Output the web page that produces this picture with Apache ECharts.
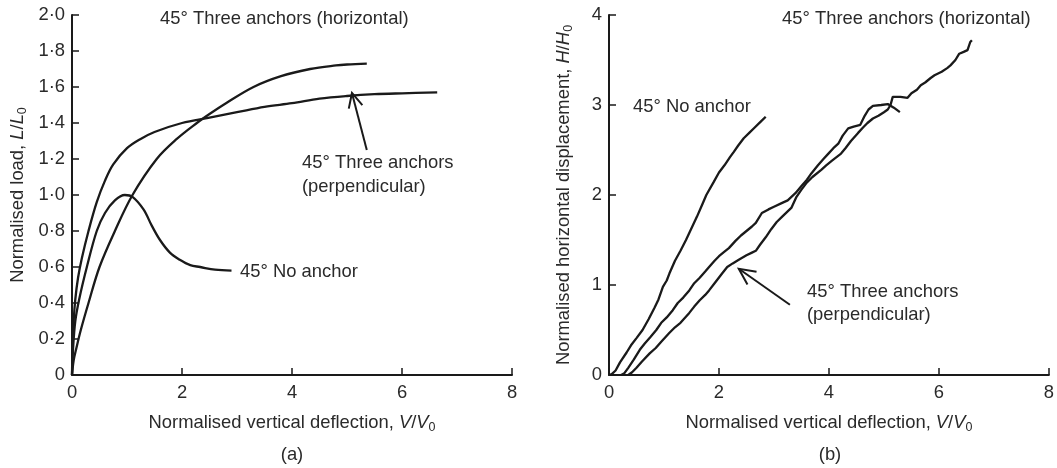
<!DOCTYPE html>
<html>
<head>
<meta charset="utf-8">
<script src="https://cdn.jsdelivr.net/npm/echarts@6/dist/echarts.min.js"></script>
<style>
html,body{margin:0;padding:0;background:#fff;}
#c{width:1057px;height:468px;}
</style>
</head>
<body>
<div id="c"></div>
<script>
// ---------- Data: panel (a) load vs vertical deflection ----------
const aNoAnchor = [[0,0],[0.02,0.15],[0.06,0.3],[0.13,0.42],[0.27,0.6],[0.45,0.8],[0.6,0.9],[0.78,0.97],[0.96,1.0],[1.1,0.99],[1.3,0.92],[1.45,0.83],[1.6,0.75],[1.78,0.68],[1.96,0.64],[2.15,0.61],[2.33,0.6],[2.6,0.585],[2.9,0.58]];
const aHorizontal = [[0,0],[0.03,0.08],[0.08,0.15],[0.16,0.25],[0.3,0.4],[0.5,0.6],[0.78,0.8],[1.1,1.0],[1.54,1.2],[1.9,1.31],[2.27,1.4],[2.5,1.45],[2.8,1.51],[3.3,1.6],[3.8,1.66],[4.33,1.7],[4.8,1.72],[5.0,1.725],[5.36,1.73]];
const aPerpendicular = [[0,0],[0.01,0.15],[0.03,0.3],[0.06,0.42],[0.11,0.54],[0.18,0.65],[0.3,0.8],[0.45,0.96],[0.6,1.08],[0.75,1.17],[1.0,1.26],[1.24,1.31],[1.5,1.35],[2.0,1.4],[2.5,1.43],[3.0,1.46],[3.5,1.49],[4.0,1.51],[4.5,1.535],[5.0,1.55],[5.5,1.56],[6.0,1.565],[6.64,1.57]];

// ---------- Data: panel (b) horizontal vs vertical deflection ----------
const bNoAnchor = [[0,0],[0.05,0.01],[0.12,0.05],[0.2,0.14],[0.32,0.25],[0.4,0.33],[0.5,0.41],[0.61,0.5],[0.72,0.62],[0.83,0.75],[0.9,0.84],[0.98,0.98],[1.05,1.05],[1.1,1.13],[1.2,1.27],[1.3,1.38],[1.4,1.5],[1.5,1.63],[1.6,1.76],[1.7,1.9],[1.77,2.0],[1.9,2.14],[2.0,2.25],[2.1,2.33],[2.2,2.42],[2.27,2.48],[2.35,2.55],[2.45,2.63],[2.55,2.69],[2.65,2.75],[2.75,2.81],[2.85,2.87]];
const bHorizontal = [[0.22,0],[0.28,0.02],[0.35,0.08],[0.45,0.17],[0.56,0.28],[0.65,0.35],[0.75,0.42],[0.86,0.5],[0.95,0.58],[1.05,0.64],[1.16,0.72],[1.25,0.8],[1.35,0.86],[1.46,0.94],[1.55,1.02],[1.65,1.08],[1.75,1.15],[1.82,1.2],[1.92,1.27],[2.0,1.32],[2.1,1.37],[2.18,1.41],[2.3,1.49],[2.4,1.55],[2.5,1.6],[2.6,1.65],[2.67,1.69],[2.78,1.8],[2.9,1.84],[3.0,1.87],[3.14,1.91],[3.25,1.94],[3.39,2.02],[3.5,2.1],[3.6,2.17],[3.68,2.24],[3.8,2.33],[3.9,2.4],[3.99,2.46],[4.08,2.52],[4.17,2.57],[4.25,2.66],[4.35,2.74],[4.45,2.76],[4.57,2.78],[4.65,2.88],[4.72,2.95],[4.8,2.99],[4.95,3.0],[5.07,3.01],[5.18,2.97],[5.29,2.92]];
const bPerpendicular = [[0.35,0],[0.42,0.03],[0.5,0.08],[0.6,0.15],[0.74,0.24],[0.85,0.3],[0.95,0.37],[1.1,0.47],[1.2,0.53],[1.3,0.58],[1.46,0.69],[1.55,0.76],[1.65,0.83],[1.75,0.89],[1.82,0.94],[1.92,1.02],[2.06,1.13],[2.15,1.2],[2.25,1.24],[2.36,1.28],[2.5,1.33],[2.6,1.36],[2.67,1.38],[2.75,1.45],[2.85,1.53],[2.95,1.62],[3.05,1.7],[3.15,1.76],[3.32,1.86],[3.41,1.98],[3.5,2.06],[3.6,2.14],[3.7,2.2],[3.86,2.28],[3.95,2.33],[4.05,2.38],[4.22,2.46],[4.3,2.52],[4.4,2.6],[4.53,2.69],[4.62,2.75],[4.7,2.8],[4.8,2.85],[4.9,2.88],[5.0,2.92],[5.07,2.95],[5.12,3.0],[5.16,3.09],[5.3,3.09],[5.43,3.08],[5.5,3.13],[5.6,3.17],[5.67,3.22],[5.75,3.25],[5.85,3.3],[5.92,3.33],[6.05,3.37],[6.15,3.41],[6.21,3.44],[6.3,3.5],[6.37,3.57],[6.45,3.59],[6.52,3.61],[6.57,3.7],[6.6,3.72]];

// ---------- Labels ----------
const xTitle = 'Normalised vertical deflection, {i|V}/{i|V}{s|0}';
const yTitleA = 'Normalised load, {i|L}/{i|L}{s|0}';
const yTitleB = 'Normalised horizontal displacement, {i|H}/{i|H}{s|0}';
const lblHorizontal = '45° Three anchors (horizontal)';
const lblPerp = ['45° Three anchors', '(perpendicular)'];
const lblNoAnchor = '45° No anchor';
const panelLabels = ['(a)', '(b)'];

const FONT = 'Liberation Sans, Arial, Helvetica, sans-serif';
const TXT = '#2a2a2a';
const INK = '#1a1a1a';
const FS = 18.4;

const chart = echarts.init(document.getElementById('c'), null, {renderer: 'canvas'});

function nameStyle() {
  return {
    fontSize: FS, color: TXT, fontFamily: FONT, lineHeight: 22,
    rich: {
      i: {fontStyle: 'italic', fontSize: FS, color: TXT, fontFamily: FONT, lineHeight: 22},
      s: {fontSize: 12.5, color: TXT, fontFamily: FONT, lineHeight: 12, verticalAlign: 'bottom'}
    }
  };
}
function xAxisCfg(gi) {
  return {
    gridIndex: gi, type: 'value', min: 0, max: 8, interval: 2,
    axisLine: {show: true, onZero: false, lineStyle: {color: INK, width: 2}},
    axisTick: {show: true, inside: true, length: 7, lineStyle: {color: INK, width: 1.5}},
    axisLabel: {fontSize: FS, color: TXT, fontFamily: FONT, margin: 9},
    splitLine: {show: false},
    name: xTitle, nameLocation: 'middle', nameGap: 37, nameTextStyle: nameStyle()
  };
}
function yAxisCfg(gi, max, interval, fmt, title, gap) {
  return {
    gridIndex: gi, type: 'value', min: 0, max: max, interval: interval,
    axisLine: {show: true, onZero: false, lineStyle: {color: INK, width: 2}},
    axisTick: {show: true, inside: true, length: 7, lineStyle: {color: INK, width: 1.5}},
    axisLabel: {fontSize: FS, color: TXT, fontFamily: FONT, margin: 7, formatter: fmt},
    splitLine: {show: false},
    name: title, nameLocation: 'middle', nameGap: gap, nameRotate: 90, nameTextStyle: nameStyle()
  };
}
function lineSeries(data, xi, smooth) {
  return {
    type: 'line', xAxisIndex: xi, yAxisIndex: xi, data: data, showSymbol: false, symbol: 'none',
    smooth: smooth, lineStyle: {color: INK, width: 2.3}, silent: true, animation: false
  };
}

const fmtA = v => v === 0 ? '0' : v.toFixed(1).replace('.', '·');
const fmtB = v => String(Math.round(v));

chart.setOption({
  animation: false,
  backgroundColor: '#fff',
  grid: [
    {left: 72, top: 15, width: 440, height: 360},
    {left: 609, top: 15, width: 443, height: 360}
  ],
  xAxis: [xAxisCfg(0), xAxisCfg(1)],
  yAxis: [
    yAxisCfg(0, 2, 0.2, fmtA, yTitleA, 43),
    yAxisCfg(1, 4, 1, fmtB, yTitleB, 34)
  ],
  series: [
    lineSeries(aNoAnchor, 0, 0.35),
    lineSeries(aHorizontal, 0, 0.35),
    lineSeries(aPerpendicular, 0, 0.35),
    lineSeries(bNoAnchor, 1, false),
    lineSeries(bHorizontal, 1, false),
    lineSeries(bPerpendicular, 1, false)
  ]
});

// ---------- Annotations ----------
function text(x, y, t, align) {
  return {type: 'text', x: x, y: y, silent: true,
    style: {text: t, fill: TXT, fontSize: FS, fontFamily: FONT,
      align: align || 'left', verticalAlign: 'middle', textAlign: align || 'left', textVerticalAlign: 'middle'}};
}
function arrow(gi, tail, tip, wing) {
  const p0 = chart.convertToPixel({gridIndex: gi}, tail);
  const p1 = chart.convertToPixel({gridIndex: gi}, tip);
  const dx = p1[0] - p0[0], dy = p1[1] - p0[1];
  const len = Math.hypot(dx, dy), ux = dx / len, uy = dy / len;
  const ang = 26 * Math.PI / 180;
  const w = (a) => [p1[0] - wing * (ux * Math.cos(a) - uy * Math.sin(a)),
                    p1[1] - wing * (ux * Math.sin(a) + uy * Math.cos(a))];
  return [
    {type: 'polyline', silent: true, shape: {points: [p0, p1]}, style: {stroke: INK, lineWidth: 2, fill: null}},
    {type: 'polyline', silent: true, shape: {points: [w(ang), p1, w(-ang)]}, style: {stroke: INK, lineWidth: 2, fill: null}}
  ];
}

chart.setOption({
  graphic: [
    text(160, 19, lblHorizontal),
    text(302, 163, lblPerp[0]),
    text(302, 187, lblPerp[1]),
    text(240, 272, lblNoAnchor),
    text(782, 19, lblHorizontal),
    text(633, 107, lblNoAnchor),
    text(807, 292, lblPerp[0]),
    text(807, 315, lblPerp[1]),
    text(292, 455, panelLabels[0], 'center'),
    text(830, 455, panelLabels[1], 'center'),
    ...arrow(0, [5.36, 1.25], [5.09, 1.567], 16),
    ...arrow(1, [3.29, 0.78], [2.36, 1.18], 18)
  ]
});
</script>
</body>
</html>
